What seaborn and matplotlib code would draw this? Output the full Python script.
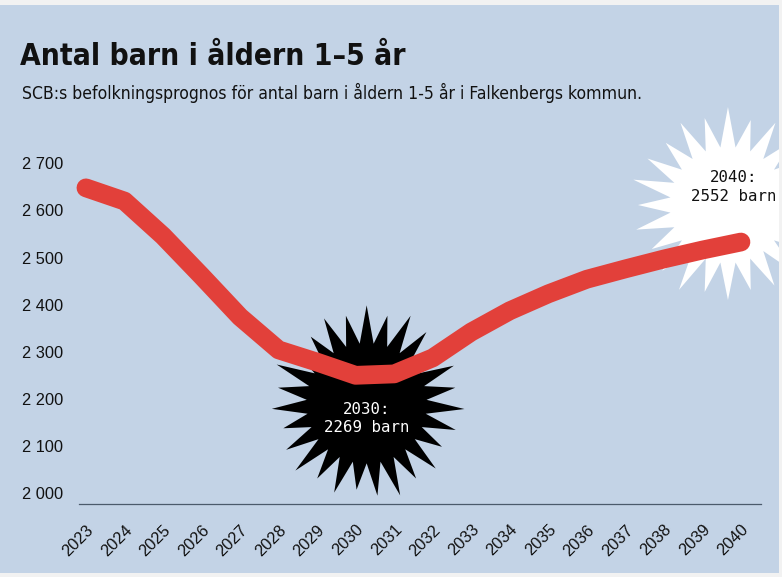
import matplotlib
matplotlib.use("Agg")
import matplotlib.pyplot as plt
import seaborn as sns
import numpy as np
import pandas as pd
from matplotlib.patches import Polygon, Rectangle
from matplotlib.transforms import ScaledTranslation

# ---- data ----
years = list(range(2023, 2041))
children = [2667, 2639, 2565, 2480, 2393, 2323, 2297, 2269, 2272,
            2306, 2361, 2406, 2442, 2473, 2495, 2516, 2535, 2552]
y_ticks = [2000, 2100, 2200, 2300, 2400, 2500, 2600, 2700]
y_tick_labels = ["2 000", "2 100", "2 200", "2 300", "2 400", "2 500", "2 600", "2 700"]
x_tick_labels = [str(y) for y in years]
title = "Antal barn i åldern 1–5 år"
subtitle = "SCB:s befolkningsprognos för antal barn i åldern 1-5 år i Falkenbergs kommun."
highlight_low = (2030, 2269)
highlight_end = (2040, 2552)

# ---- style ----
sns.set_style("white")
plt.rcParams['font.family'] = ['Liberation Sans', 'DejaVu Sans']

W, H = 782, 577
BG = '#C3D3E6'
RED = '#E2403A'

fig = plt.figure(figsize=(W / 100, H / 100), dpi=100)
fig.patch.set_facecolor('#F2F2F2')
panel = Rectangle((0, (H - 573) / H), 779 / W, (573 - 5) / H,
                  transform=fig.transFigure, facecolor=BG, edgecolor='none', zorder=-10)
fig.patches.append(panel)

ax = fig.add_axes([79 / W, (H - 504) / H, (761 - 79) / W, (504 - 140) / H])
ax.patch.set_alpha(0)

df = pd.DataFrame({'year': years, 'children': children})
sns.lineplot(data=df, x='year', y='children', ax=ax, color=RED, linewidth=13.5,
             solid_capstyle='round', solid_joinstyle='round', zorder=5, clip_on=False)

ax.set_xlim(2022.82, 2040.52)
ax.set_ylim(1995.8, 2768.6)
ax.set_xticks(years)
ax.set_xticklabels(x_tick_labels, rotation=45, ha='right', va='top', rotation_mode='anchor')
ax.set_yticks(y_ticks)
ax.set_yticklabels(y_tick_labels, va='bottom')
ax.tick_params(axis='both', length=0, labelsize=11.8, colors='#111111')
ax.tick_params(axis='x', pad=13)
ax.tick_params(axis='y', pad=11.5)
for s in ['top', 'right', 'left']:
    ax.spines[s].set_visible(False)
ax.spines['bottom'].set_color('#4B5A6B')
ax.spines['bottom'].set_linewidth(0.9)
ax.set_xlabel('')
ax.set_ylabel('')


def starburst(n, r_out, r_in, phase=0.0):
    verts = []
    for i in range(n):
        a = phase + 2 * np.pi * i / n
        ro = r_out[i % len(r_out)]
        verts.append((ro * np.cos(a), ro * np.sin(a)))
        a2 = a + np.pi / n
        verts.append((r_in * np.cos(a2), r_in * np.sin(a2)))
    return np.array(verts)


def add_star(point, offset_px, n, r_out, r_in, color, phase):
    v = starburst(n, r_out, r_in, phase)
    v[:, 0] += offset_px[0]
    v[:, 1] += offset_px[1]
    v = v / 100.0
    tr = fig.dpi_scale_trans + ScaledTranslation(point[0], point[1], ax.transData)
    poly = Polygon(v, closed=True, transform=tr, facecolor=color, edgecolor='none',
                   zorder=2, clip_on=True)
    ax.add_patch(poly)
    poly.set_clip_path(panel)
    return poly


add_star(highlight_low, (11, -28), 27, [98, 90, 95, 87, 93], 60, 'black', np.pi / 2)
add_star(highlight_end, (-13, 37), 24, [98, 90, 95, 88, 93], 58, 'white', np.pi / 2)

ax.annotate(f"{highlight_low[0]}:\n{highlight_low[1]} barn", xy=highlight_low,
            xytext=(11, -43), textcoords='offset pixels', ha='center', va='center',
            family='DejaVu Sans Mono', fontsize=11.3, color='white', linespacing=1.3, zorder=7)
ax.annotate(f"{highlight_end[0]}:\n{highlight_end[1]} barn", xy=highlight_end,
            xytext=(-7, 55), textcoords='offset pixels', ha='center', va='center',
            family='DejaVu Sans Mono', fontsize=11.3, color='#111111', linespacing=1.3, zorder=7)

fig.text(20 / W, 1 - 65 / H, title, fontsize=21.5, fontweight='bold', fontstretch='condensed',
         family=['DejaVu Sans'], va='baseline', color='#111111')
fig.text(22 / W, 1 - 99 / H, subtitle, fontsize=12.6, fontstretch='condensed',
         family=['DejaVu Sans'], va='baseline', color='#111111')

fig.savefig('out.png', dpi=100, facecolor=fig.get_facecolor())
